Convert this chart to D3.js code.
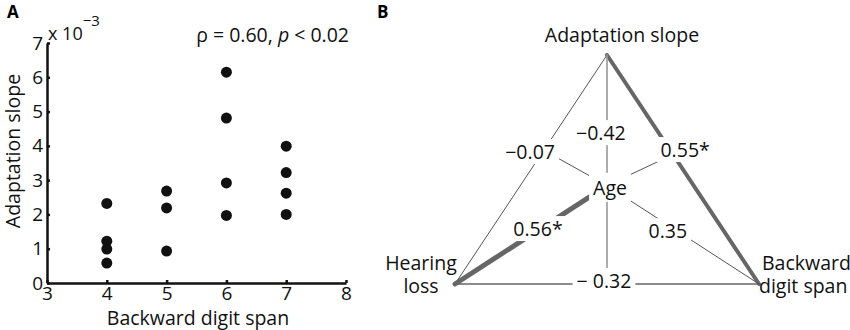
<!DOCTYPE html>
<html>
<head>
<meta charset="utf-8">
<script src="https://cdn.jsdelivr.net/npm/d3@7"></script>
<style>
  body { margin: 0; background: #fff; }
  svg { font-family: "Open Sans", "Noto Sans", sans-serif; }
</style>
</head>
<body>
<div id="chart"></div>
<script>
////////////////////////////////////////////////////////////////////////
// Data

// Panel A: backward digit span vs adaptation slope (x 10^-3)
let digitSpan = [4, 4, 4, 4, 5, 5, 5, 6, 6, 6, 6, 7, 7, 7, 7];
let adaptSlope = [2.32, 1.22, 0.99, 0.58, 2.68, 2.19, 0.93, 6.15, 4.81, 2.92, 1.97, 3.99, 3.22, 2.62, 2.0];
let xTicks = [3, 4, 5, 6, 7, 8];
let yTicks = [0, 1, 2, 3, 4, 5, 6, 7];

// Panel B: correlations between the measures
let nodeNames = ["Adaptation slope", "Hearing loss", "Backward digit span", "Age"];
let pairs = [
  ["Adaptation slope", "Hearing loss"],
  ["Adaptation slope", "Backward digit span"],
  ["Hearing loss", "Backward digit span"],
  ["Age", "Adaptation slope"],
  ["Age", "Hearing loss"],
  ["Age", "Backward digit span"]
];
let rhoValues = ["\u22120.07", "0.55*", "\u2212 0.32", "\u22120.42", "0.56*", "0.35"];

////////////////////////////////////////////////////////////////////////
// Setup

let width = 850, height = 330;
let fs = 19.5;
let svg = d3.select("#chart").append("svg")
  .attr("width", width)
  .attr("height", height);

// panel letters
svg.append("text").attr("x", 7).attr("y", 18)
  .attr("font-size", 17).attr("font-weight", "bold").text("A");
svg.append("text").attr("x", 377).attr("y", 18)
  .attr("font-size", 17).attr("font-weight", "bold").text("B");

////////////////////////////////////////////////////////////////////////
// PART A: scatter

let xScale = d3.scaleLinear().domain([3, 8]).range([47, 346]);
let yScale = d3.scaleLinear().domain([0, 7]).range([283, 43]);

let xAxis = svg.append("g")
  .attr("transform", "translate(0," + yScale(0) + ")")
  .call(d3.axisBottom(xScale).tickValues(xTicks).tickFormat(d3.format("d"))
    .tickSizeInner(-3).tickSizeOuter(0).tickPadding(3));
let yAxis = svg.append("g")
  .attr("transform", "translate(" + xScale(3) + ",0)")
  .call(d3.axisLeft(yScale).tickValues(yTicks).tickFormat(d3.format("d"))
    .tickSizeInner(-3).tickSizeOuter(0).tickPadding(4));

[xAxis, yAxis].forEach(function (ax) {
  ax.select(".domain").attr("stroke", "#111").attr("stroke-width", 2.5);
  ax.selectAll(".tick line").attr("stroke", "#111").attr("stroke-width", 2.5);
  ax.selectAll(".tick text")
    .attr("font-family", "'Open Sans', sans-serif")
    .attr("font-size", 19)
    .attr("fill", "#111");
});

// the exponent label
let expo = svg.append("text")
  .attr("x", xScale(3) + 1)
  .attr("y", 40)
  .attr("font-size", 18)
  .attr("fill", "#111");
expo.append("tspan").text("x 10");
expo.append("tspan").attr("dy", -14).attr("font-size", 15).text("\u22123");

// axis titles
svg.append("text")
  .attr("x", 198).attr("y", 325)
  .attr("text-anchor", "middle")
  .attr("font-size", fs)
  .attr("fill", "#111")
  .text("Backward digit span");

svg.append("text")
  .attr("transform", "translate(20,151) rotate(-90)")
  .attr("text-anchor", "middle")
  .attr("font-size", fs)
  .attr("fill", "#111")
  .text("Adaptation slope");

// stats annotation
let stat = svg.append("text")
  .attr("x", 349).attr("y", 42)
  .attr("text-anchor", "end")
  .attr("font-size", fs)
  .attr("fill", "#111");
stat.append("tspan").text("\u03c1 = 0.60, ");
stat.append("tspan").attr("font-style", "italic").text("p");
stat.append("tspan").text(" < 0.02");

// dots
svg.append("g")
  .selectAll("circle")
  .data(digitSpan)
  .enter()
  .append("circle")
  .attr("cx", d => xScale(d))
  .attr("cy", (d, i) => yScale(adaptSlope[i]))
  .attr("r", 5.5)
  .attr("fill", "#111");

////////////////////////////////////////////////////////////////////////
// PART B: correlation triangle

// layout in unit coordinates, mapped to pixels by the two scales
let bx = d3.scaleLinear().domain([0, 1]).range([455, 759]);
let by = d3.scaleLinear().domain([0, 1]).range([55, 284]);

let nodePos = {
  "Adaptation slope": [0.5, 0],
  "Hearing loss": [0, 1],
  "Backward digit span": [1, 1],
  "Age": [0.5, 0.57]
};
// where each correlation label sits, and how each link is drawn
let labelPos = [[0.247, 0.424], [0.757, 0.415], [0.49, 0.987], [0.48, 0.341], [0.273, 0.76], [0.70, 0.769]];
let linkStyle = [
  { color: "#555", w: 1 },
  { color: "#666", w: 4 },
  { color: "#666", w: 1.3 },
  { color: "#999", w: 1.6 },
  { color: "#666", w: 5 },
  { color: "#555", w: 1 }
];
// spokes from Age towards the labels of the outer edges
let spokeEnds = [[0.296, 0.419], [0.707, 0.441], [0.5, 1]];
let spokeStyle = [
  { color: "#555", w: 1 },
  { color: "#555", w: 1 },
  { color: "#999", w: 1.6 }
];

let gB = svg.append("g");

gB.selectAll("line.link")
  .data(pairs)
  .enter()
  .append("line")
  .attr("class", "link")
  .attr("x1", d => bx(nodePos[d[0]][0]))
  .attr("y1", d => by(nodePos[d[0]][1]))
  .attr("x2", d => bx(nodePos[d[1]][0]))
  .attr("y2", d => by(nodePos[d[1]][1]))
  .attr("stroke", (d, i) => linkStyle[i].color)
  .attr("stroke-width", (d, i) => linkStyle[i].w)
  .attr("stroke-linecap", "round");

gB.selectAll("line.spoke")
  .data(spokeEnds)
  .enter()
  .append("line")
  .attr("class", "spoke")
  .attr("x1", bx(nodePos["Age"][0]))
  .attr("y1", by(nodePos["Age"][1]))
  .attr("x2", d => bx(d[0]))
  .attr("y2", d => by(d[1]))
  .attr("stroke", (d, i) => spokeStyle[i].color)
  .attr("stroke-width", (d, i) => spokeStyle[i].w);

// labels with a white patch behind them, which cuts the lines
function addLabel(g, x, y, txt, padX, padY) {
  let t = g.append("text")
    .attr("x", x).attr("y", y)
    .attr("dy", "0.36em")
    .attr("text-anchor", "middle")
    .attr("font-size", fs)
    .attr("fill", "#111")
    .text(txt);
  let b = t.node().getBBox();
  g.insert("rect", function () { return t.node(); })
    .attr("x", b.x - padX).attr("y", b.y + 3 - padY)
    .attr("width", b.width + 2 * padX).attr("height", b.height - 6 + 2 * padY)
    .attr("fill", "#fff");
}

rhoValues.forEach(function (v, i) {
  addLabel(gB, bx(labelPos[i][0]), by(labelPos[i][1]), v, 4, 2);
});

// Age sits in the middle
addLabel(gB, bx(0.51), by(0.58), "Age", 4, 4);

// vertex names
gB.append("text")
  .attr("x", bx(0.5) + 15).attr("y", 42)
  .attr("text-anchor", "middle")
  .attr("font-size", fs).attr("fill", "#111")
  .text(nodeNames[0]);

let hl = gB.append("text")
  .attr("x", 421).attr("y", 270)
  .attr("text-anchor", "middle")
  .attr("font-size", fs).attr("fill", "#111");
hl.append("tspan").attr("x", 421).text("Hearing");
hl.append("tspan").attr("x", 421).attr("dy", 23).text("loss");

let bds = gB.append("text")
  .attr("x", 762).attr("y", 270)
  .attr("font-size", fs).attr("fill", "#111");
bds.append("tspan").attr("x", 762).text("Backward");
bds.append("tspan").attr("x", 759).attr("dy", 23).text("digit span");
</script>
</body>
</html>
